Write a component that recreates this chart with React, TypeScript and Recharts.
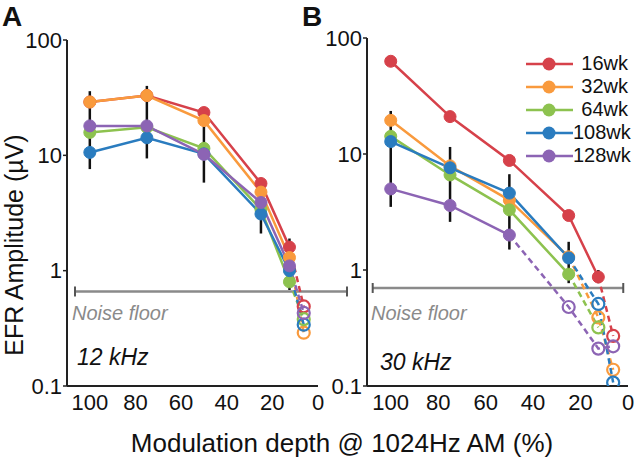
import React from 'react';
import { LineChart, Line, XAxis, YAxis, ErrorBar, ReferenceLine, Legend } from 'recharts';

const depths = [100, 75, 50, 25, 12.5, 6.25];
const ages = ['16wk', '32wk', '64wk', '108wk', '128wk'];
const colors = ['#d6414a', '#f99a3d', '#8dc24f', '#2a7cbf', '#8c64b4'];

// amplitudes (uV) per age group, one value per depth
const amp12kHz = [
  [29, 33, 23.5, 5.7, 1.6, 0.49],
  [29, 33, 20, 4.8, 1.3, 0.29],
  [15.8, 17.5, 11.5, 3.4, 0.8, 0.38],
  [10.6, 14.2, 10.3, 3.1, 1.0, 0.34],
  [18, 18, 10.2, 3.9, 1.1, 0.43],
];
const amp30kHz = [
  [63, 21, 8.8, 2.95, 0.87, 0.27],
  [19.5, 7.9, 4.0, 1.3, 0.39, 0.138],
  [14.2, 6.6, 3.3, 0.92, 0.32, null],
  [12.8, 7.6, 4.6, 1.27, 0.51, 0.107],
  [5.0, 3.6, 2.0, 0.48, 0.21, 0.22],
];
// how many points of each series sit above the noise floor (filled markers)
const solid12kHz = [5, 5, 5, 5, 5];
const solid30kHz = [5, 4, 4, 4, 3];

// error bar extents per depth
const errLow12kHz = [7.6, 9.4, 5.8, 2.1, 0.68];
const errHigh12kHz = [36, 40, 25, 6.2, 1.9];
const errLow30kHz = [3.5, 2.6, 1.5, 0.77, 0.77];
const errHigh30kHz = [23.5, 11.5, 6.7, 1.75, 1.0];

const noiseFloor12kHz = 0.66;
const noiseFloor30kHz = 0.7;

const xTicks = [0, 20, 40, 60, 80, 100];
const yTicks = [0.1, 1, 10, 100];

const font = '"Liberation Sans", Arial, Helvetica, sans-serif';

function buildRows(amps: (number | null)[][], solid: number[], lo: number[], hi: number[]) {
  return depths.map((depth, i) => {
    const row: any = { depth };
    ages.forEach((age, j) => {
      const v = amps[j][i];
      row[age] = v != null && i < solid[j] ? v : null;
      row[age + '_open'] = v != null && i >= solid[j] - 1 ? v : null;
    });
    if (i < lo.length) {
      const mid = Math.sqrt(lo[i] * hi[i]);
      row.errMid = mid;
      row.errRange = [mid - lo[i], hi[i] - mid];
    } else {
      row.errMid = null;
    }
    return row;
  });
}

const NoiseLine = (p: any) => (
  <g>
    <line x1={p.x1} y1={p.y1} x2={p.x2} y2={p.y2} stroke="#8a8a8a" strokeWidth={2.5} />
    <line x1={p.x1} y1={p.y1 - 5} x2={p.x1} y2={p.y1 + 5} stroke="#555" strokeWidth={2} />
    <line x1={p.x2} y1={p.y2 - 5} x2={p.x2} y2={p.y2 + 5} stroke="#555" strokeWidth={2} />
  </g>
);

const LegendBox = () => (
  <div style={{ fontFamily: font, fontSize: 20, color: '#111', width: 102 }}>
    {ages.map((age, j) => (
      <div key={age} style={{ display: 'flex', alignItems: 'center', height: 23 }}>
        <svg width={47} height={20} style={{ flex: 'none' }}>
          <line x1={0} y1={10} x2={47} y2={10} stroke={colors[j]} strokeWidth={2.5} />
          <circle cx={23} cy={10} r={6.5} fill={colors[j]} />
        </svg>
        <span style={{ flex: 1, textAlign: 'right' }}>{age}</span>
      </div>
    ))}
  </div>
);

interface PanelProps {
  amps: (number | null)[][];
  solid: number[];
  lo: number[];
  hi: number[];
  noise: number;
  noiseFrom: number;
  noiseTo: number;
  left: number;
  width: number;
  yAxisWidth: number;
  top: number;
  right: number;
  legend?: boolean;
}

function Panel({ amps, solid, lo, hi, noise, noiseFrom, noiseTo, left, width, yAxisWidth, top, right, legend }: PanelProps) {
  const rows = buildRows(amps, solid, lo, hi);
  return (
    <div style={{ position: 'absolute', left, top: 0 }}>
      <LineChart width={width} height={458} data={rows} margin={{ top, right, bottom: 42, left: 0 }}>
        <XAxis
          dataKey="depth"
          type="number"
          domain={[0, 110]}
          allowDataOverflow
          reversed
          ticks={xTicks}
          tickLine={false}
          height={30}
          axisLine={{ stroke: '#222', strokeWidth: 2 }}
          tick={{ fill: '#111', fontSize: 22, fontFamily: font }}
        />
        <YAxis
          scale="log"
          type="number"
          domain={[0.1, 100]}
          allowDataOverflow
          ticks={yTicks}
          width={yAxisWidth}
          tickSize={4}
          tickMargin={1}
          tickFormatter={(v) => String(v)}
          axisLine={{ stroke: '#222', strokeWidth: 2 }}
          tickLine={{ stroke: '#222', strokeWidth: 1.5 }}
          tick={{ fill: '#111', fontSize: 22, fontFamily: font }}
        />
        <ReferenceLine
          segment={[{ x: noiseFrom, y: noise }, { x: noiseTo, y: noise }]}
          ifOverflow="visible"
          shape={NoiseLine}
        />
        <Line dataKey="errMid" stroke="none" dot={false} activeDot={false} isAnimationActive={false} legendType="none">
          <ErrorBar dataKey="errRange" direction="y" width={0} stroke="#111" strokeWidth={2.5} isAnimationActive={false} />
        </Line>
        {ages.map((age, j) => (
          <Line
            key={age + '_open'}
            dataKey={age + '_open'}
            stroke={colors[j]}
            strokeWidth={2.5}
            strokeDasharray="6 4"
            isAnimationActive={false}
            activeDot={false}
            legendType="none"
            dot={(p: any) =>
              p.index >= solid[j] && p.value != null ? (
                <circle key={age + p.index} cx={p.cx} cy={p.cy} r={6} fill="none" stroke={colors[j]} strokeWidth={2.2} />
              ) : (
                <g key={age + p.index} />
              )
            }
          />
        ))}
        {ages.map((age, j) => (
          <Line
            key={age}
            dataKey={age}
            stroke={colors[j]}
            strokeWidth={2.5}
            isAnimationActive={false}
            activeDot={false}
            dot={{ r: 6, fill: colors[j], stroke: colors[j], strokeWidth: 1 }}
          />
        ))}
        {legend && (
          <Legend
            layout="vertical"
            align="center"
            verticalAlign="middle"
            content={() => <LegendBox />}
            wrapperStyle={{ top: 52, left: 206, width: 102 }}
          />
        )}
      </LineChart>
    </div>
  );
}

const label = (text: string, x: number, y: number, style: React.CSSProperties) => (
  <div style={{ position: 'absolute', left: x, top: y, whiteSpace: 'nowrap', fontFamily: font, lineHeight: 1, ...style }}>
    {text}
  </div>
);

export default function App() {
  return (
    <div style={{ position: 'absolute', left: 0, top: 0, width: 640, height: 458, background: '#fff', overflow: 'hidden' }}>
      <Panel
        amps={amp12kHz}
        solid={solid12kHz}
        lo={errLow12kHz}
        hi={errHigh12kHz}
        noise={noiseFloor12kHz}
        noiseFrom={106.5}
        noiseTo={-12.7}
        left={0}
        width={350}
        yAxisWidth={67}
        top={40}
        right={32}
      />
      <Panel
        amps={amp30kHz}
        solid={solid30kHz}
        lo={errLow30kHz}
        hi={errHigh30kHz}
        noise={noiseFloor30kHz}
        noiseFrom={107.6}
        noiseTo={2}
        left={320}
        width={320}
        yAxisWidth={47}
        top={38}
        right={12}
        legend
      />
      {label('A', 2, 3, { fontSize: 28, fontWeight: 'bold', color: '#111' })}
      {label('B', 302, 3, { fontSize: 28, fontWeight: 'bold', color: '#111' })}
      {label('Noise floor', 72, 303, { fontSize: 20, fontStyle: 'italic', color: '#8a8a8a' })}
      {label('Noise floor', 371, 303, { fontSize: 20, fontStyle: 'italic', color: '#8a8a8a' })}
      {label('12 kHz', 77, 346, { fontSize: 23, fontStyle: 'italic', color: '#111' })}
      {label('30 kHz', 380, 351, { fontSize: 23, fontStyle: 'italic', color: '#111' })}
      {label('Modulation depth @ 1024Hz AM (%)', 342, 430, { fontSize: 26, color: '#111', transform: 'translateX(-50%)' })}
      <div
        style={{
          position: 'absolute',
          left: 14,
          top: 245,
          transform: 'translate(-50%, -50%) rotate(-90deg)',
          whiteSpace: 'nowrap',
          fontFamily: font,
          fontSize: 25,
          lineHeight: 1,
          color: '#111',
        }}
      >
        EFR Amplitude (µV)
      </div>
    </div>
  );
}
